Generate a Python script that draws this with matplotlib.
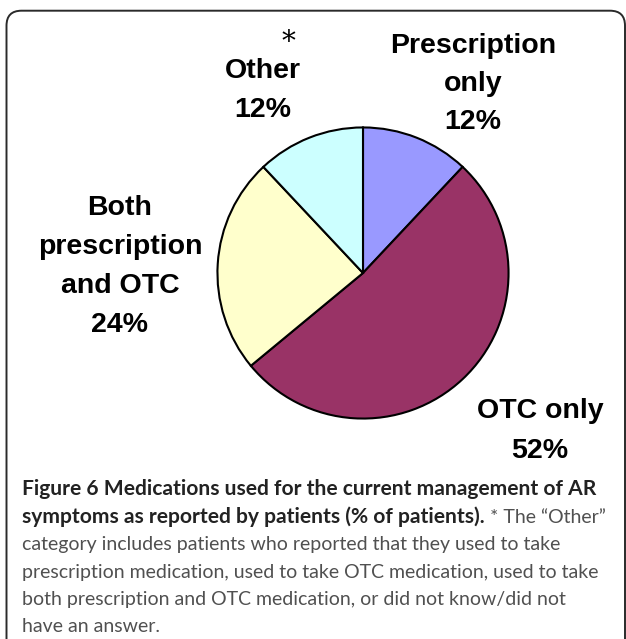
import matplotlib
matplotlib.use("Agg")
import matplotlib.pyplot as plt
from matplotlib.patches import FancyBboxPatch
from matplotlib.transforms import IdentityTransform

# Pie data (clockwise from 12 o'clock)
categories = ["Prescription only", "OTC only", "Both prescription and OTC", "Other"]
shares = [12, 52, 24, 12]
colors = ["#9999FF", "#993366", "#FFFFCC", "#CCFFFF"]

# Label lines for each slice
label_lines = [
    ["Prescription", "only", "12%"],
    ["OTC only", "52%"],
    ["Both", "prescription", "and OTC", "24%"],
    ["Other", "12%"],
]

caption_bold_1 = "Figure 6 Medications used for the current management of AR"
caption_bold_2 = "symptoms as reported by patients (% of patients)."
caption_reg_2 = " * The \u201cOther\u201d"
caption_reg_rest = [
    "category includes patients who reported that they used to take",
    "prescription medication, used to take OTC medication, used to take",
    "both prescription and OTC medication, or did not know/did not",
    "have an answer.",
]

W, H = 626, 639
fig = plt.figure(figsize=(W / 100, H / 100), dpi=100)
fig.patch.set_facecolor("white")


def fx(x):
    return x / W


def fy(y):
    # y measured from the top of the image
    return 1 - y / H


# rounded frame
frame = FancyBboxPatch((6.5, -40), 618.5, H - 10.7 + 40,
                       boxstyle="round,pad=0,rounding_size=15",
                       transform=IdentityTransform(), facecolor="none",
                       edgecolor="#2a2a2a", linewidth=1.4)
fig.add_artist(frame)

# pie axes: center (363, 273), radius 147 px
cx, cy, r = 363, 273, 147
ax = fig.add_axes([fx(cx - r), fy(cy + r), 2 * r / W, 2 * r / H])
ax.pie(shares, colors=colors, startangle=90, counterclock=False,
       wedgeprops=dict(edgecolor="black", linewidth=1.5))
ax.set_xlim(-1.01, 1.01)
ax.set_ylim(-1.01, 1.01)
ax.set_aspect("equal")
ax.axis("off")

# slice labels: (center x, first baseline y, line step)
label_pos = [(473, 53, 38), (540, 418, 40), (120, 215, 39), (263, 78, 39)]
for lines, (x, y0, step) in zip(label_lines, label_pos):
    for i, line in enumerate(lines):
        fig.text(fx(x), fy(y0 + i * step), line, ha="center", va="baseline",
                 fontsize=20.5, fontweight="bold", family="Liberation Sans",
                 color="black")

# asterisk above "Other"
fig.text(fx(288), fy(50), "*", ha="center", va="baseline", fontsize=20,
         family="DejaVu Serif", color="black")

# caption
renderer = fig.canvas.get_renderer()
left = 22
bold_col = "#222222"
reg_col = "#505050"
cap_font = "Lato"


def fit_size(text, weight, target):
    t = fig.text(0, 0, text, fontsize=10, fontweight=weight, family=cap_font)
    w = t.get_window_extent(renderer).width
    t.remove()
    return 10 * target / w


bsize = fit_size(caption_bold_1, "bold", 597 - left)
rsize = fit_size(caption_reg_rest[1], "normal", 602 - left)

baselines = [495, 523, 550, 578, 605, 632]
fig.text(fx(left), fy(baselines[0]), caption_bold_1, ha="left", va="baseline",
         fontsize=bsize, fontweight="bold", family=cap_font, color=bold_col)
t2 = fig.text(fx(left), fy(baselines[1]), caption_bold_2, ha="left", va="baseline",
              fontsize=bsize, fontweight="bold", family=cap_font, color=bold_col)
w2 = t2.get_window_extent(renderer).width
fig.text(fx(left + w2), fy(baselines[1]), caption_reg_2, ha="left", va="baseline",
         fontsize=rsize, family=cap_font, color=reg_col)
for line, yb in zip(caption_reg_rest, baselines[2:]):
    fig.text(fx(left), fy(yb), line, ha="left", va="baseline",
             fontsize=rsize, family=cap_font, color=reg_col)

fig.savefig("out.png", dpi=100)
